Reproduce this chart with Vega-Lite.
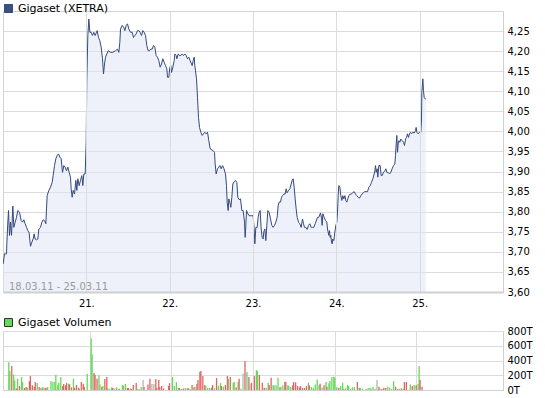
{
  "$schema": "https://vega.github.io/schema/vega-lite/v6.json",
  "padding": {"left": 2, "top": 2, "right": 0, "bottom": 0},
  "autosize": {"type": "pad"},
  "datasets": {
    "price": [
      {"t":0.002,"v":3.670},{"t":0.018,"v":3.695},{"t":0.042,"v":3.695},{"t":0.046,"v":3.720},{"t":0.058,"v":3.774},{"t":0.066,"v":3.803},{"t":0.078,"v":3.741},{"t":0.090,"v":3.774},{"t":0.102,"v":3.741},{"t":0.118,"v":3.814},{"t":0.130,"v":3.761},{"t":0.146,"v":3.774},{"t":0.162,"v":3.786},{"t":0.178,"v":3.803},{"t":0.198,"v":3.799},{"t":0.218,"v":3.778},{"t":0.234,"v":3.774},{"t":0.250,"v":3.780},{"t":0.266,"v":3.770},{"t":0.282,"v":3.761},{"t":0.298,"v":3.753},{"t":0.314,"v":3.747},{"t":0.330,"v":3.714},{"t":0.346,"v":3.724},{"t":0.362,"v":3.732},{"t":0.374,"v":3.745},{"t":0.386,"v":3.732},{"t":0.402,"v":3.730},{"t":0.418,"v":3.732},{"t":0.430,"v":3.757},{"t":0.450,"v":3.761},{"t":0.466,"v":3.774},{"t":0.482,"v":3.780},{"t":0.498,"v":3.778},{"t":0.514,"v":3.770},{"t":0.522,"v":3.807},{"t":0.530,"v":3.840},{"t":0.550,"v":3.853},{"t":0.570,"v":3.861},{"t":0.590,"v":3.873},{"t":0.602,"v":3.890},{"t":0.618,"v":3.915},{"t":0.634,"v":3.932},{"t":0.650,"v":3.940},{"t":0.666,"v":3.944},{"t":0.682,"v":3.936},{"t":0.698,"v":3.932},{"t":0.714,"v":3.898},{"t":0.730,"v":3.915},{"t":0.746,"v":3.911},{"t":0.762,"v":3.902},{"t":0.778,"v":3.911},{"t":0.794,"v":3.898},{"t":0.810,"v":3.886},{"t":0.818,"v":3.857},{"t":0.830,"v":3.836},{"t":0.842,"v":3.853},{"t":0.858,"v":3.844},{"t":0.874,"v":3.878},{"t":0.886,"v":3.853},{"t":0.898,"v":3.882},{"t":0.914,"v":3.865},{"t":0.930,"v":3.878},{"t":0.946,"v":3.890},{"t":0.958,"v":3.865},{"t":0.970,"v":3.894},{"t":0.986,"v":3.894},{"t":0.998,"v":3.973},
      {"t":1.006,"v":4.131},{"t":1.018,"v":4.239},{"t":1.030,"v":4.280},{"t":1.042,"v":4.247},{"t":1.058,"v":4.247},{"t":1.074,"v":4.239},{"t":1.090,"v":4.247},{"t":1.106,"v":4.239},{"t":1.122,"v":4.247},{"t":1.130,"v":4.251},{"t":1.146,"v":4.234},{"t":1.162,"v":4.226},{"t":1.178,"v":4.210},{"t":1.194,"v":4.181},{"t":1.206,"v":4.143},{"t":1.218,"v":4.168},{"t":1.230,"v":4.185},{"t":1.246,"v":4.193},{"t":1.262,"v":4.201},{"t":1.290,"v":4.197},{"t":1.318,"v":4.197},{"t":1.350,"v":4.201},{"t":1.374,"v":4.205},{"t":1.390,"v":4.197},{"t":1.402,"v":4.222},{"t":1.410,"v":4.255},{"t":1.430,"v":4.264},{"t":1.450,"v":4.259},{"t":1.462,"v":4.251},{"t":1.478,"v":4.264},{"t":1.494,"v":4.268},{"t":1.510,"v":4.255},{"t":1.530,"v":4.247},{"t":1.550,"v":4.247},{"t":1.566,"v":4.234},{"t":1.582,"v":4.239},{"t":1.598,"v":4.243},{"t":1.614,"v":4.251},{"t":1.630,"v":4.251},{"t":1.646,"v":4.247},{"t":1.662,"v":4.239},{"t":1.678,"v":4.251},{"t":1.694,"v":4.247},{"t":1.710,"v":4.239},{"t":1.726,"v":4.214},{"t":1.742,"v":4.201},{"t":1.758,"v":4.201},{"t":1.774,"v":4.205},{"t":1.790,"v":4.205},{"t":1.806,"v":4.214},{"t":1.822,"v":4.210},{"t":1.838,"v":4.189},{"t":1.854,"v":4.185},{"t":1.870,"v":4.176},{"t":1.886,"v":4.160},{"t":1.902,"v":4.168},{"t":1.918,"v":4.181},{"t":1.934,"v":4.172},{"t":1.950,"v":4.164},{"t":1.966,"v":4.156},{"t":1.974,"v":4.135},{"t":1.990,"v":4.135},
      {"t":2.002,"v":4.160},{"t":2.014,"v":4.164},{"t":2.022,"v":4.147},{"t":2.038,"v":4.160},{"t":2.054,"v":4.176},{"t":2.062,"v":4.193},{"t":2.078,"v":4.189},{"t":2.086,"v":4.181},{"t":2.102,"v":4.193},{"t":2.118,"v":4.189},{"t":2.134,"v":4.189},{"t":2.150,"v":4.193},{"t":2.166,"v":4.189},{"t":2.182,"v":4.193},{"t":2.198,"v":4.189},{"t":2.214,"v":4.181},{"t":2.230,"v":4.185},{"t":2.246,"v":4.176},{"t":2.262,"v":4.168},{"t":2.270,"v":4.164},{"t":2.282,"v":4.176},{"t":2.294,"v":4.185},{"t":2.302,"v":4.164},{"t":2.310,"v":4.151},{"t":2.322,"v":4.131},{"t":2.334,"v":4.085},{"t":2.346,"v":4.035},{"t":2.358,"v":4.010},{"t":2.374,"v":3.998},{"t":2.390,"v":3.990},{"t":2.406,"v":3.994},{"t":2.422,"v":3.998},{"t":2.438,"v":3.994},{"t":2.454,"v":3.998},{"t":2.470,"v":3.977},{"t":2.482,"v":3.961},{"t":2.490,"v":3.956},{"t":2.522,"v":3.952},{"t":2.538,"v":3.948},{"t":2.546,"v":3.919},{"t":2.558,"v":3.894},{"t":2.574,"v":3.907},{"t":2.590,"v":3.911},{"t":2.602,"v":3.915},{"t":2.618,"v":3.907},{"t":2.634,"v":3.915},{"t":2.650,"v":3.908},{"t":2.670,"v":3.894},{"t":2.682,"v":3.865},{"t":2.690,"v":3.824},{"t":2.702,"v":3.803},{"t":2.710,"v":3.832},{"t":2.722,"v":3.824},{"t":2.734,"v":3.811},{"t":2.746,"v":3.836},{"t":2.758,"v":3.869},{"t":2.774,"v":3.875},{"t":2.790,"v":3.878},{"t":2.806,"v":3.873},{"t":2.818,"v":3.836},{"t":2.834,"v":3.830},{"t":2.850,"v":3.832},{"t":2.866,"v":3.803},{"t":2.882,"v":3.803},{"t":2.898,"v":3.774},{"t":2.906,"v":3.736},{"t":2.914,"v":3.766},{"t":2.922,"v":3.803},{"t":2.938,"v":3.795},{"t":2.954,"v":3.790},{"t":2.978,"v":3.790},
      {"t":3.002,"v":3.790},{"t":3.014,"v":3.757},{"t":3.022,"v":3.720},{"t":3.034,"v":3.761},{"t":3.050,"v":3.761},{"t":3.062,"v":3.786},{"t":3.074,"v":3.799},{"t":3.086,"v":3.803},{"t":3.098,"v":3.757},{"t":3.110,"v":3.736},{"t":3.122,"v":3.732},{"t":3.130,"v":3.751},{"t":3.142,"v":3.757},{"t":3.154,"v":3.728},{"t":3.166,"v":3.766},{"t":3.178,"v":3.803},{"t":3.194,"v":3.799},{"t":3.210,"v":3.782},{"t":3.226,"v":3.766},{"t":3.242,"v":3.761},{"t":3.258,"v":3.766},{"t":3.274,"v":3.774},{"t":3.290,"v":3.786},{"t":3.302,"v":3.815},{"t":3.314,"v":3.824},{"t":3.330,"v":3.824},{"t":3.342,"v":3.836},{"t":3.354,"v":3.840},{"t":3.370,"v":3.844},{"t":3.386,"v":3.844},{"t":3.398,"v":3.857},{"t":3.410,"v":3.847},{"t":3.426,"v":3.853},{"t":3.442,"v":3.857},{"t":3.458,"v":3.869},{"t":3.470,"v":3.878},{"t":3.482,"v":3.882},{"t":3.494,"v":3.861},{"t":3.506,"v":3.832},{"t":3.518,"v":3.807},{"t":3.530,"v":3.786},{"t":3.546,"v":3.774},{"t":3.562,"v":3.770},{"t":3.578,"v":3.761},{"t":3.594,"v":3.782},{"t":3.606,"v":3.770},{"t":3.618,"v":3.761},{"t":3.634,"v":3.761},{"t":3.650,"v":3.756},{"t":3.666,"v":3.766},{"t":3.682,"v":3.770},{"t":3.698,"v":3.761},{"t":3.714,"v":3.761},{"t":3.730,"v":3.761},{"t":3.746,"v":3.770},{"t":3.774,"v":3.786},{"t":3.790,"v":3.786},{"t":3.810,"v":3.797},{"t":3.822,"v":3.784},{"t":3.830,"v":3.766},{"t":3.838,"v":3.795},{"t":3.854,"v":3.786},{"t":3.870,"v":3.778},{"t":3.886,"v":3.774},{"t":3.894,"v":3.757},{"t":3.910,"v":3.741},{"t":3.918,"v":3.753},{"t":3.926,"v":3.736},{"t":3.934,"v":3.741},{"t":3.942,"v":3.724},{"t":3.950,"v":3.720},{"t":3.958,"v":3.732},{"t":3.970,"v":3.728},{"t":3.982,"v":3.749},{"t":3.994,"v":3.766},
      {"t":4.006,"v":3.774},{"t":4.014,"v":3.799},{"t":4.022,"v":3.840},{"t":4.030,"v":3.865},{"t":4.042,"v":3.861},{"t":4.054,"v":3.840},{"t":4.066,"v":3.828},{"t":4.078,"v":3.840},{"t":4.090,"v":3.832},{"t":4.102,"v":3.840},{"t":4.114,"v":3.828},{"t":4.126,"v":3.824},{"t":4.138,"v":3.832},{"t":4.150,"v":3.840},{"t":4.166,"v":3.844},{"t":4.182,"v":3.844},{"t":4.198,"v":3.848},{"t":4.214,"v":3.850},{"t":4.230,"v":3.844},{"t":4.246,"v":3.840},{"t":4.262,"v":3.836},{"t":4.278,"v":3.834},{"t":4.294,"v":3.840},{"t":4.310,"v":3.844},{"t":4.326,"v":3.848},{"t":4.342,"v":3.850},{"t":4.374,"v":3.850},{"t":4.390,"v":3.861},{"t":4.406,"v":3.865},{"t":4.422,"v":3.873},{"t":4.438,"v":3.882},{"t":4.454,"v":3.894},{"t":4.462,"v":3.902},{"t":4.470,"v":3.915},{"t":4.478,"v":3.898},{"t":4.490,"v":3.907},{"t":4.498,"v":3.886},{"t":4.510,"v":3.915},{"t":4.526,"v":3.915},{"t":4.538,"v":3.890},{"t":4.550,"v":3.890},{"t":4.566,"v":3.898},{"t":4.582,"v":3.902},{"t":4.594,"v":3.907},{"t":4.606,"v":3.898},{"t":4.622,"v":3.898},{"t":4.638,"v":3.894},{"t":4.654,"v":3.898},{"t":4.670,"v":3.907},{"t":4.686,"v":3.915},{"t":4.702,"v":3.919},{"t":4.710,"v":3.940},{"t":4.718,"v":3.969},{"t":4.726,"v":3.990},{"t":4.734,"v":3.948},{"t":4.742,"v":3.969},{"t":4.750,"v":3.977},{"t":4.762,"v":3.973},{"t":4.774,"v":3.981},{"t":4.790,"v":3.977},{"t":4.806,"v":3.973},{"t":4.818,"v":3.965},{"t":4.830,"v":3.981},{"t":4.842,"v":3.985},{"t":4.854,"v":3.994},{"t":4.866,"v":3.985},{"t":4.878,"v":3.994},{"t":4.890,"v":3.998},{"t":4.902,"v":3.994},{"t":4.918,"v":3.998},{"t":4.934,"v":3.996},{"t":4.950,"v":4.002},{"t":4.958,"v":4.010},{"t":4.966,"v":3.998},{"t":4.982,"v":3.994},{"t":4.998,"v":3.998},
      {"t":5.014,"v":3.998},{"t":5.022,"v":4.031},{"t":5.026,"v":4.097},{"t":5.038,"v":4.131},{"t":5.046,"v":4.102},{"t":5.054,"v":4.085},{"t":5.066,"v":4.081},{"t":5.074,"v":4.081}
    ],
    "vol": [
      {"t":0.010,"vol":377,"d":"u"},{"t":0.022,"vol":256,"d":"u"},{"t":0.046,"vol":324,"d":"d"},{"t":0.070,"vol":211,"d":"u"},{"t":0.082,"vol":130,"d":"u"},{"t":0.102,"vol":22,"d":"d"},{"t":0.118,"vol":153,"d":"u"},{"t":0.142,"vol":54,"d":"d"},{"t":0.166,"vol":175,"d":"u"},{"t":0.178,"vol":108,"d":"u"},{"t":0.202,"vol":27,"d":"d"},{"t":0.222,"vol":40,"d":"d"},{"t":0.238,"vol":31,"d":"u"},{"t":0.262,"vol":121,"d":"d"},{"t":0.274,"vol":189,"d":"d"},{"t":0.298,"vol":63,"d":"d"},{"t":0.322,"vol":45,"d":"d"},{"t":0.334,"vol":108,"d":"d"},{"t":0.358,"vol":94,"d":"u"},{"t":0.382,"vol":40,"d":"d"},{"t":0.394,"vol":27,"d":"u"},{"t":0.418,"vol":31,"d":"d"},{"t":0.430,"vol":36,"d":"u"},{"t":0.454,"vol":27,"d":"d"},{"t":0.466,"vol":31,"d":"d"},{"t":0.486,"vol":40,"d":"u"},{"t":0.526,"vol":121,"d":"u"},{"t":0.550,"vol":108,"d":"u"},{"t":0.574,"vol":108,"d":"u"},{"t":0.586,"vol":202,"d":"u"},{"t":0.610,"vol":63,"d":"u"},{"t":0.622,"vol":99,"d":"u"},{"t":0.646,"vol":175,"d":"u"},{"t":0.670,"vol":54,"d":"d"},{"t":0.682,"vol":81,"d":"d"},{"t":0.706,"vol":63,"d":"d"},{"t":0.718,"vol":94,"d":"d"},{"t":0.742,"vol":85,"d":"u"},{"t":0.754,"vol":76,"d":"d"},{"t":0.778,"vol":36,"d":"d"},{"t":0.802,"vol":153,"d":"u"},{"t":0.814,"vol":31,"d":"d"},{"t":0.838,"vol":67,"d":"d"},{"t":0.862,"vol":31,"d":"d"},{"t":0.874,"vol":22,"d":"u"},{"t":0.898,"vol":108,"d":"d"},{"t":0.922,"vol":85,"d":"d"},{"t":0.934,"vol":45,"d":"d"},{"t":0.970,"vol":216,"d":"u"},
      {"t":1.018,"vol":701,"d":"u"},{"t":1.030,"vol":485,"d":"u"},{"t":1.054,"vol":229,"d":"d"},{"t":1.066,"vol":202,"d":"d"},{"t":1.090,"vol":153,"d":"d"},{"t":1.114,"vol":198,"d":"u"},{"t":1.126,"vol":76,"d":"u"},{"t":1.150,"vol":45,"d":"d"},{"t":1.162,"vol":54,"d":"u"},{"t":1.186,"vol":148,"d":"d"},{"t":1.210,"vol":175,"d":"d"},{"t":1.222,"vol":27,"d":"u"},{"t":1.246,"vol":13,"d":"u"},{"t":1.270,"vol":36,"d":"u"},{"t":1.282,"vol":27,"d":"d"},{"t":1.306,"vol":22,"d":"u"},{"t":1.330,"vol":36,"d":"u"},{"t":1.354,"vol":13,"d":"u"},{"t":1.366,"vol":18,"d":"u"},{"t":1.402,"vol":67,"d":"u"},{"t":1.414,"vol":58,"d":"u"},{"t":1.438,"vol":81,"d":"u"},{"t":1.462,"vol":27,"d":"d"},{"t":1.474,"vol":27,"d":"d"},{"t":1.498,"vol":22,"d":"u"},{"t":1.510,"vol":13,"d":"d"},{"t":1.534,"vol":67,"d":"d"},{"t":1.570,"vol":94,"d":"d"},{"t":1.582,"vol":18,"d":"u"},{"t":1.606,"vol":13,"d":"u"},{"t":1.630,"vol":40,"d":"u"},{"t":1.654,"vol":135,"d":"n"},{"t":1.666,"vol":40,"d":"d"},{"t":1.714,"vol":76,"d":"d"},{"t":1.738,"vol":153,"d":"d"},{"t":1.762,"vol":81,"d":"n"},{"t":1.786,"vol":81,"d":"n"},{"t":1.810,"vol":148,"d":"d"},{"t":1.822,"vol":31,"d":"d"},{"t":1.846,"vol":135,"d":"d"},{"t":1.858,"vol":40,"d":"d"},{"t":1.882,"vol":54,"d":"d"},{"t":1.906,"vol":22,"d":"d"},{"t":1.966,"vol":54,"d":"d"},{"t":1.978,"vol":94,"d":"d"},
      {"t":2.014,"vol":175,"d":"u"},{"t":2.038,"vol":54,"d":"u"},{"t":2.062,"vol":108,"d":"u"},{"t":2.086,"vol":27,"d":"u"},{"t":2.098,"vol":27,"d":"d"},{"t":2.122,"vol":13,"d":"u"},{"t":2.146,"vol":22,"d":"d"},{"t":2.170,"vol":27,"d":"u"},{"t":2.194,"vol":22,"d":"u"},{"t":2.206,"vol":27,"d":"d"},{"t":2.230,"vol":13,"d":"u"},{"t":2.254,"vol":67,"d":"d"},{"t":2.278,"vol":36,"d":"d"},{"t":2.290,"vol":45,"d":"u"},{"t":2.314,"vol":81,"d":"d"},{"t":2.326,"vol":135,"d":"d"},{"t":2.350,"vol":247,"d":"d"},{"t":2.362,"vol":256,"d":"d"},{"t":2.386,"vol":189,"d":"d"},{"t":2.410,"vol":67,"d":"d"},{"t":2.422,"vol":54,"d":"u"},{"t":2.446,"vol":27,"d":"u"},{"t":2.470,"vol":27,"d":"u"},{"t":2.494,"vol":31,"d":"d"},{"t":2.506,"vol":67,"d":"d"},{"t":2.530,"vol":22,"d":"u"},{"t":2.554,"vol":162,"d":"d"},{"t":2.578,"vol":58,"d":"u"},{"t":2.602,"vol":94,"d":"u"},{"t":2.614,"vol":54,"d":"d"},{"t":2.638,"vol":45,"d":"u"},{"t":2.662,"vol":67,"d":"d"},{"t":2.686,"vol":189,"d":"d"},{"t":2.698,"vol":153,"d":"u"},{"t":2.722,"vol":175,"d":"d"},{"t":2.758,"vol":99,"d":"u"},{"t":2.770,"vol":108,"d":"u"},{"t":2.794,"vol":36,"d":"d"},{"t":2.818,"vol":112,"d":"u"},{"t":2.830,"vol":153,"d":"d"},{"t":2.854,"vol":18,"d":"u"},{"t":2.878,"vol":225,"d":"n"},{"t":2.902,"vol":391,"d":"d"},{"t":2.926,"vol":243,"d":"u"},{"t":2.950,"vol":175,"d":"d"},{"t":2.962,"vol":85,"d":"n"},{"t":2.982,"vol":99,"d":"d"},
      {"t":3.018,"vol":189,"d":"d"},{"t":3.042,"vol":270,"d":"u"},{"t":3.054,"vol":256,"d":"u"},{"t":3.078,"vol":202,"d":"d"},{"t":3.114,"vol":99,"d":"d"},{"t":3.138,"vol":31,"d":"d"},{"t":3.162,"vol":31,"d":"u"},{"t":3.186,"vol":99,"d":"u"},{"t":3.198,"vol":67,"d":"d"},{"t":3.222,"vol":166,"d":"d"},{"t":3.246,"vol":63,"d":"u"},{"t":3.258,"vol":63,"d":"u"},{"t":3.282,"vol":63,"d":"u"},{"t":3.306,"vol":166,"d":"u"},{"t":3.330,"vol":36,"d":"d"},{"t":3.342,"vol":45,"d":"u"},{"t":3.366,"vol":63,"d":"u"},{"t":3.390,"vol":108,"d":"d"},{"t":3.402,"vol":112,"d":"d"},{"t":3.426,"vol":63,"d":"u"},{"t":3.438,"vol":54,"d":"u"},{"t":3.462,"vol":40,"d":"u"},{"t":3.486,"vol":63,"d":"d"},{"t":3.498,"vol":108,"d":"d"},{"t":3.522,"vol":103,"d":"d"},{"t":3.546,"vol":54,"d":"d"},{"t":3.570,"vol":36,"d":"d"},{"t":3.582,"vol":54,"d":"d"},{"t":3.606,"vol":27,"d":"d"},{"t":3.630,"vol":27,"d":"d"},{"t":3.654,"vol":54,"d":"d"},{"t":3.678,"vol":99,"d":"u"},{"t":3.690,"vol":63,"d":"d"},{"t":3.714,"vol":40,"d":"u"},{"t":3.738,"vol":31,"d":"u"},{"t":3.762,"vol":76,"d":"u"},{"t":3.786,"vol":144,"d":"u"},{"t":3.810,"vol":63,"d":"u"},{"t":3.822,"vol":85,"d":"d"},{"t":3.846,"vol":31,"d":"u"},{"t":3.870,"vol":63,"d":"d"},{"t":3.894,"vol":108,"d":"u"},{"t":3.906,"vol":45,"d":"d"},{"t":3.930,"vol":90,"d":"u"},{"t":3.942,"vol":121,"d":"u"},{"t":3.966,"vol":175,"d":"u"},{"t":3.990,"vol":180,"d":"u"},
      {"t":4.002,"vol":166,"d":"u"},{"t":4.026,"vol":36,"d":"u"},{"t":4.050,"vol":31,"d":"d"},{"t":4.074,"vol":54,"d":"u"},{"t":4.098,"vol":94,"d":"u"},{"t":4.110,"vol":18,"d":"u"},{"t":4.134,"vol":22,"d":"u"},{"t":4.158,"vol":67,"d":"u"},{"t":4.170,"vol":54,"d":"u"},{"t":4.194,"vol":13,"d":"u"},{"t":4.218,"vol":36,"d":"u"},{"t":4.242,"vol":40,"d":"u"},{"t":4.278,"vol":108,"d":"d"},{"t":4.302,"vol":27,"d":"d"},{"t":4.314,"vol":27,"d":"u"},{"t":4.338,"vol":18,"d":"u"},{"t":4.386,"vol":13,"d":"u"},{"t":4.410,"vol":27,"d":"u"},{"t":4.434,"vol":31,"d":"u"},{"t":4.446,"vol":18,"d":"u"},{"t":4.470,"vol":45,"d":"u"},{"t":4.494,"vol":18,"d":"u"},{"t":4.518,"vol":135,"d":"n"},{"t":4.542,"vol":45,"d":"d"},{"t":4.554,"vol":22,"d":"u"},{"t":4.578,"vol":13,"d":"d"},{"t":4.602,"vol":31,"d":"d"},{"t":4.626,"vol":27,"d":"d"},{"t":4.650,"vol":45,"d":"u"},{"t":4.674,"vol":31,"d":"u"},{"t":4.698,"vol":13,"d":"u"},{"t":4.722,"vol":121,"d":"u"},{"t":4.746,"vol":45,"d":"d"},{"t":4.770,"vol":13,"d":"d"},{"t":4.794,"vol":18,"d":"u"},{"t":4.818,"vol":22,"d":"d"},{"t":4.842,"vol":13,"d":"u"},{"t":4.854,"vol":108,"d":"d"},{"t":4.878,"vol":108,"d":"d"},{"t":4.926,"vol":76,"d":"u"},{"t":4.950,"vol":54,"d":"d"},{"t":4.974,"vol":67,"d":"u"},{"t":4.998,"vol":63,"d":"d"},
      {"t":5.022,"vol":81,"d":"u"},{"t":5.034,"vol":324,"d":"u"},{"t":5.046,"vol":135,"d":"d"},{"t":5.070,"vol":45,"d":"d"}
    ]
  },
  "config": {
    "font": "DejaVu Sans",
    "view": {"stroke": "#d4d4d4", "strokeWidth": 1},
    "axis": {"labelFont": "DejaVu Sans", "labelFontSize": 10, "labelColor": "#000000", "ticks": false, "gridColor": "#dcdcdc", "gridWidth": 1, "domainColor": "#d0d0d0", "labelPadding": 4, "labelOverlap": false},
    "legend": {"labelFont": "DejaVu Sans", "labelFontSize": 11, "labelColor": "#000000", "symbolType": "square", "symbolSize": 64, "labelOffset": 4, "padding": 0}
  },
  "spacing": 7,
  "resolve": {"scale": {"color": "independent"}, "legend": {"color": "independent"}},
  "vconcat": [
    {
      "width": 500,
      "height": 281,
      "encoding": {
        "x": {"field": "t", "type": "quantitative", "scale": {"domain": [0, 6], "nice": false, "zero": false},
              "axis": {"values": [1, 2, 3, 4, 5], "labelExpr": "(datum.value + 20) + '.'", "grid": true, "domainWidth": 2, "labelPadding": 6, "zindex": 1,
                       "title": "18.03.11 - 25.03.11", "titleX": 5.5, "titleY": -3, "titleAlign": "left", "titleAnchor": "start", "titleBaseline": "alphabetic",
                       "titleFont": "DejaVu Sans", "titleFontSize": 10, "titleFontWeight": "normal", "titleColor": "#9a9a9a"}},
        "y": {"field": "v", "type": "quantitative", "scale": {"domain": [3.6, 4.3], "zero": false, "nice": false},
              "axis": {"orient": "right", "values": [3.6, 3.65, 3.7, 3.75, 3.8, 3.85, 3.9, 3.95, 4.0, 4.05, 4.1, 4.15, 4.2, 4.25], "labelExpr": "replace(format(datum.value, '.2f'), '.', ',')", "grid": true, "title": null}}
      },
      "layer": [
        {
          "data": {"name": "price"},
          "mark": {"type": "area", "color": "#e0e6f5", "fillOpacity": 0.55, "clip": true}
        },
        {
          "data": {"name": "price"},
          "mark": {"type": "line", "strokeWidth": 1, "clip": true},
          "encoding": {
            "color": {"datum": "Gigaset (XETRA)", "type": "nominal", "scale": {"range": ["#34497d"]},
                      "legend": {"orient": "none", "legendX": 0, "legendY": -8, "title": null,
                                 "encode": {"symbols": {"update": {"fill": {"value": "#3b4f80"}, "stroke": {"value": "#222222"}, "strokeWidth": {"value": 1}, "shape": {"value": "square"}}}}}}
          }
        }
      ]
    },
    {
      "width": 500,
      "height": 59,
      "data": {"name": "vol"},
      "mark": {"type": "bar", "width": 1.3},
      "encoding": {
        "x": {"field": "t", "type": "quantitative", "scale": {"domain": [0, 6], "nice": false, "zero": false},
              "axis": {"values": [1, 2, 3, 4, 5], "labels": false, "grid": true, "title": null}},
        "y": {"field": "vol", "type": "quantitative", "scale": {"domain": [0, 800], "nice": false},
              "axis": {"orient": "right", "values": [0, 200, 400, 600, 800], "labelExpr": "datum.value + 'T'", "grid": true, "title": null}},
        "color": {"field": "d", "type": "nominal", "scale": {"domain": ["u", "d", "n"], "range": ["#66d85a", "#e06464", "#b4b4b4"]},
                  "legend": {"values": ["u"], "labelExpr": "'Gigaset Volumen'", "orient": "none", "legendX": 0, "legendY": -14, "title": null,
                             "encode": {"symbols": {"update": {"fill": {"value": "#66cc66"}, "stroke": {"value": "#333333"}, "strokeWidth": {"value": 1}, "shape": {"value": "square"}}}}}}
      }
    }
  ]
}
